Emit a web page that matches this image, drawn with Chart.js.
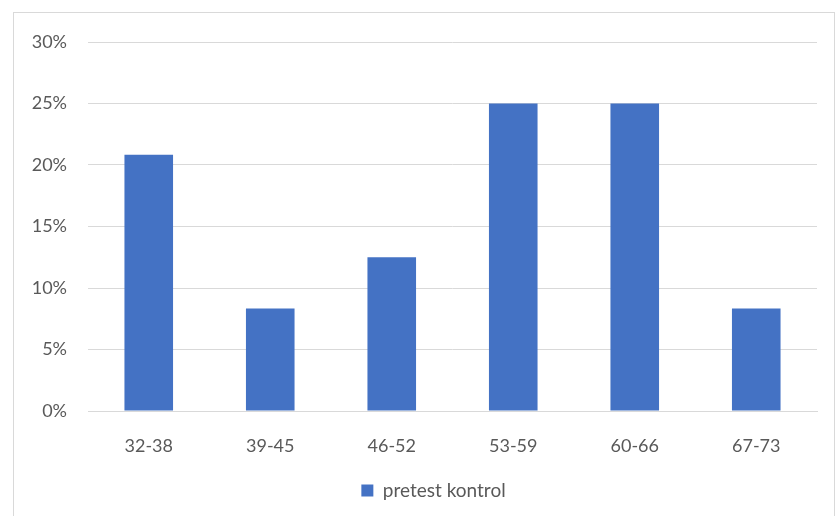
<!DOCTYPE html>
<html><head><meta charset="utf-8">
<script src="https://cdn.jsdelivr.net/npm/chart.js@4"></script>
<style>html,body{margin:0;padding:0;background:#fff}#w{width:835px;height:516px;position:relative}</style>
</head><body><div id="w"><canvas id="c" width="835" height="516"></canvas></div>
<script>
const categories = ["32-38","39-45","46-52","53-59","60-66","67-73"];
const seriesName = "pretest kontrol";
const values = [0.2083, 0.0833, 0.125, 0.25, 0.25, 0.0833];
const yTicks = [0, 0.05, 0.10, 0.15, 0.20, 0.25, 0.30];

const FONT = "Lato, 'Liberation Sans', sans-serif";
const TXT = "#595959";
const frame = {
  id: 'frame',
  beforeDraw(chart) {
    const ctx = chart.ctx;
    ctx.save();
    ctx.fillStyle = '#fff';
    ctx.fillRect(0, 0, chart.width, chart.height);
    ctx.strokeStyle = '#d9d9d9';
    ctx.lineWidth = 1;
    ctx.strokeRect(13.5, 12.5, 821, 540);
    ctx.restore();
  },
  afterLayout(chart) {
    if (chart.legend) { chart.legend.left += 25; chart.legend.right += 25; }
  }
};
new Chart(document.getElementById('c'), {
  type: 'bar',
  data: { labels: categories, datasets: [{ label: seriesName, data: values, backgroundColor: '#4472C4', borderWidth: 0, categoryPercentage: 1, barPercentage: 0.4 }] },
  options: {
    responsive: false, animation: false, devicePixelRatio: 1,
    layout: { padding: { top: 42, right: 18, left: 0, bottom: 6 } },
    plugins: {
      tooltip: { enabled: false },
      legend: { position: 'bottom', labels: { font: { family: FONT, size: 19 }, color: TXT, boxWidth: 12, boxHeight: 12, padding: 10 } }
    },
    scales: {
      x: {
        grid: { display: false }, border: { color: '#d9d9d9' },
        ticks: { font: { family: FONT, size: 18 }, color: TXT, padding: 16, maxRotation: 0 },
        afterFit(s) { s.height = 60; }
      },
      y: {
        min: 0, max: 0.3,
        afterBuildTicks(s) { s.ticks = yTicks.map(v => ({ value: v })); },
        grid: { color: '#d9d9d9', drawTicks: false }, border: { display: false },
        ticks: { font: { family: FONT, size: 18 }, color: TXT, padding: 21, callback: v => Math.round(v * 100) + '%' },
        afterFit(s) { s.width = 88; }
      }
    }
  },
  plugins: [frame]
});
</script></body></html>
